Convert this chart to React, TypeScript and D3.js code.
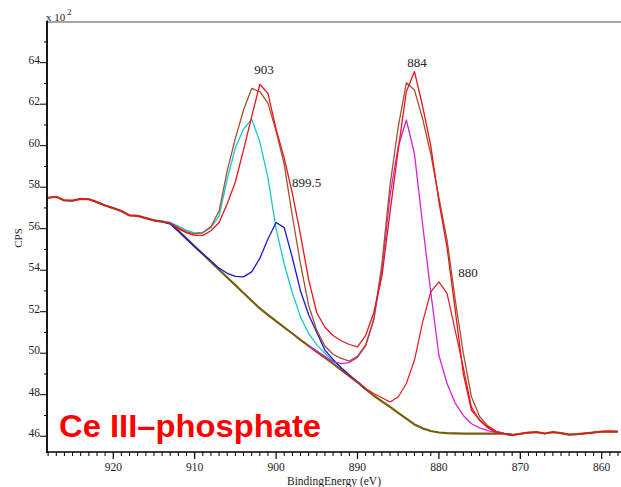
import React from "react";
import * as d3 from "d3";

type P = [number, number];

// Measured spectrum (binding energy eV, counts x100)
const rawData: P[] = [
  [928, 57.49], [927, 57.54], [926, 57.36], [925, 57.35], [924, 57.44], [923, 57.42], [922, 57.28], [921, 57.12],
  [920, 56.99], [919, 56.85], [918, 56.64], [917, 56.62], [916, 56.51], [915, 56.4], [914, 56.34], [913, 56.27],
  [912, 56.0], [911, 55.8], [910, 55.68], [909, 55.68], [908, 55.9], [907, 56.3], [906, 57.2], [905, 58.25],
  [904, 59.8], [903, 61.4], [902, 62.96], [901, 62.52], [900, 60.8], [899, 59.4], [898, 57.7], [897, 55.7],
  [896, 53.55], [895, 51.95], [894, 51.25], [893, 50.85], [892, 50.6], [891, 50.42], [890, 50.3], [889, 50.85],
  [888, 51.95], [887, 53.7], [886, 56.8], [885, 59.8], [884, 62.6], [883, 63.57], [882, 61.9], [881, 60.0],
  [880, 57.3], [879, 55.1], [878, 52.1], [877, 49.0], [876, 47.25], [875, 46.8], [874, 46.45], [873, 46.22],
  [872, 46.12], [871, 46.05], [870, 46.12], [869, 46.17], [868, 46.2], [867, 46.13], [866, 46.2], [865, 46.15],
  [864, 46.08], [863, 46.1], [862, 46.14], [861, 46.18], [860, 46.22], [859, 46.23], [858, 46.22],
];

// Shirley-type background
const backgroundData: P[] = [
  [928, 57.49], [927, 57.54], [926, 57.36], [925, 57.35], [924, 57.44], [923, 57.42], [922, 57.28], [921, 57.12],
  [920, 56.99], [919, 56.85], [918, 56.64], [917, 56.62], [916, 56.51], [915, 56.4], [914, 56.34], [913, 56.27],
  [912, 55.9], [911, 55.52], [910, 55.15], [909, 54.78], [908, 54.4], [907, 54.02], [906, 53.65], [905, 53.28],
  [904, 52.9], [903, 52.53], [902, 52.16], [901, 51.85], [900, 51.55], [899, 51.25], [898, 50.95], [897, 50.64],
  [896, 50.35], [895, 50.07], [894, 49.79], [893, 49.5], [892, 49.2], [891, 48.9], [890, 48.6], [889, 48.27],
  [888, 47.95], [887, 47.68], [886, 47.41], [885, 47.13], [884, 46.85], [883, 46.57], [882, 46.38], [881, 46.25],
  [880, 46.18], [879, 46.15], [878, 46.14], [877, 46.13], [876, 46.13], [875, 46.13], [874, 46.13], [873, 46.13],
  [872, 46.12], [871, 46.05], [870, 46.12], [869, 46.17], [868, 46.2], [867, 46.13], [866, 46.2], [865, 46.15],
  [864, 46.08], [863, 46.1], [862, 46.14], [861, 46.18], [860, 46.22], [859, 46.23], [858, 46.22],
];

// Fit envelope
const envelopeData: P[] = [
  [928, 57.49], [927, 57.54], [926, 57.36], [925, 57.35], [924, 57.44], [923, 57.42], [922, 57.28], [921, 57.12],
  [920, 56.99], [919, 56.85], [918, 56.64], [917, 56.62], [916, 56.51], [915, 56.4], [914, 56.34], [913, 56.27],
  [912, 56.05], [911, 55.85], [910, 55.75], [909, 55.8], [908, 56.1], [907, 56.85], [906, 58.8], [905, 60.35],
  [904, 61.72], [903, 62.76], [902, 62.6], [901, 62.05], [900, 60.7], [899, 59.1], [898, 56.6], [897, 54.3],
  [896, 52.3], [895, 51.1], [894, 50.35], [893, 49.95], [892, 49.75], [891, 49.62], [890, 49.85], [889, 50.4],
  [888, 51.65], [887, 54.3], [886, 58.1], [885, 60.9], [884, 63.03], [883, 62.68], [882, 61.3], [881, 59.6],
  [880, 57.5], [879, 55.45], [878, 52.6], [877, 50.0], [876, 47.9], [875, 46.95], [874, 46.5], [873, 46.25],
  [872, 46.14], [871, 46.07], [870, 46.12], [869, 46.17], [868, 46.2], [867, 46.13], [866, 46.2], [865, 46.15],
  [864, 46.08], [863, 46.1], [862, 46.14], [861, 46.18], [860, 46.22], [859, 46.23], [858, 46.22],
];

// Component 903 eV
const comp903: P[] = [
  [915, 56.4], [914, 56.36], [913, 56.3], [912, 56.12], [911, 55.92], [910, 55.8], [909, 55.82], [908, 56.05],
  [907, 56.6], [906, 58.4], [905, 59.9], [904, 60.8], [903, 61.27], [902, 60.2], [901, 58.45], [900, 56.0],
  [899, 54.3], [898, 52.9], [897, 51.75], [896, 50.95], [895, 50.4], [894, 50.0], [893, 49.65], [892, 49.3],
  [891, 48.95], [890, 48.63], [889, 48.28],
];

// Component 899.5 eV
const comp8995: P[] = [
  [915, 56.4], [914, 56.34], [913, 56.22], [912, 55.88], [911, 55.5], [910, 55.13], [909, 54.78], [908, 54.45],
  [907, 54.1], [906, 53.85], [905, 53.7], [904, 53.68], [903, 53.92], [902, 54.57], [901, 55.5], [900, 56.3],
  [899, 56.05], [898, 54.6], [897, 53.0], [896, 51.85], [895, 51.0], [894, 50.15], [893, 49.7], [892, 49.3],
  [891, 48.95], [890, 48.63], [889, 48.28],
];

// Component 884 eV
const comp884: P[] = [
  [896, 50.36], [895, 50.1], [894, 49.85], [893, 49.6], [892, 49.5], [891, 49.55], [890, 49.8], [889, 50.35],
  [888, 51.6], [887, 54.0], [886, 57.6], [885, 59.95], [884, 61.24], [883, 59.6], [882, 56.2], [881, 52.95],
  [880, 49.9], [879, 48.54], [878, 47.6], [877, 47.0], [876, 46.6], [875, 46.4], [874, 46.27], [873, 46.19],
  [872, 46.14], [871, 46.1],
];

// Component 880 eV
const comp880: P[] = [
  [892, 49.2], [891, 48.92], [890, 48.63], [889, 48.3], [888, 48.06], [887, 47.85], [886, 47.65], [885, 47.89],
  [884, 48.54], [883, 49.66], [882, 51.5], [881, 52.95], [880, 53.44], [879, 52.88], [878, 51.1], [877, 49.3],
  [876, 47.4], [875, 46.75], [874, 46.4], [873, 46.2], [872, 46.13], [871, 46.08],
];

const yMajorTicks = [46, 48, 50, 52, 54, 56, 58, 60, 62, 64];
const yMinorTicks = [47, 49, 51, 53, 55, 57, 59, 61, 63, 65];
const xMajorTicks = [920, 910, 900, 890, 880, 870, 860];

const peakLabels = [
  { text: "903", x: 264, y: 74, anchor: "middle" },
  { text: "899.5", x: 292, y: 187, anchor: "start" },
  { text: "884", x: 417, y: 67, anchor: "middle" },
  { text: "880", x: 468, y: 277, anchor: "middle" },
];

const W = 621, H = 487;
const L = 47, R = 621, T = 22, B = 452;

export default function App() {
  const x = d3.scaleLinear().domain([928.14, 857.63]).range([L, R]);
  const y = d3.scaleLinear().domain([45.24, 65.96]).range([B, T]);
  const line = d3.line<P>().x((d) => x(d[0])).y((d) => y(d[1]));
  const xMinor = d3.range(928, 857, -1).filter((v) => v % 10 !== 0);
  const serif = "'Liberation Serif', 'Times New Roman', serif";

  return (
    <svg width={W} height={H} style={{ position: "absolute", left: 0, top: 0, background: "#fff" }}>
      <defs>
        <clipPath id="plot">
          <rect x={L} y={T} width={R - L} height={B - T} />
        </clipPath>
      </defs>
      <g clipPath="url(#plot)" fill="none" strokeLinejoin="round">
        <path d={line(backgroundData)!} stroke="#7a5c0c" strokeWidth={2.2} />
        <path d={line(comp903)!} stroke="#18c8cc" strokeWidth={1.3} />
        <path d={line(comp8995)!} stroke="#1818d8" strokeWidth={1.3} />
        <path d={line(comp884)!} stroke="#d81ed8" strokeWidth={1.3} />
        <path d={line(comp880)!} stroke="#e8141c" strokeWidth={1.2} />
        <path d={line(envelopeData)!} stroke="#a0522d" strokeWidth={1.3} />
        <path d={line(rawData)!} stroke="#e8141c" strokeWidth={1.3} />
      </g>

      {/* frame */}
      <line x1={L} x2={R} y1={T} y2={T} stroke="#8a8a8a" strokeWidth={1.6} />
      <line x1={L} x2={L} y1={T - 1} y2={B + 1} stroke="#000" strokeWidth={1.8} />
      <line x1={L - 1} x2={R} y1={B} y2={B} stroke="#000" strokeWidth={1.6} />

      {/* y ticks */}
      {yMajorTicks.map((v) => (
        <g key={"ym" + v}>
          <line x1={L - 7} x2={L} y1={y(v)} y2={y(v)} stroke="#000" strokeWidth={1} />
          <text x={L - 7} y={y(v) + 1} textAnchor="end" fontFamily={serif} fontSize={11.5} fill="#222">
            {v}
          </text>
        </g>
      ))}
      {yMinorTicks.map((v) => (
        <line key={"yn" + v} x1={L - 3} x2={L} y1={y(v)} y2={y(v)} stroke="#000" strokeWidth={1} />
      ))}

      {/* x ticks */}
      {xMinor.map((v) => (
        <line key={"xn" + v} x1={x(v)} x2={x(v)} y1={B} y2={B + 4} stroke="#000" strokeWidth={1} />
      ))}
      {xMajorTicks.map((v) => (
        <g key={"xm" + v}>
          <line x1={x(v)} x2={x(v)} y1={B} y2={B + 7} stroke="#000" strokeWidth={1.2} />
          <text x={x(v)} y={471} textAnchor="middle" fontFamily={serif} fontSize={11.5} fill="#222">
            {v}
          </text>
        </g>
      ))}

      {/* axis titles */}
      <text x={334} y={485} textAnchor="middle" fontFamily={serif} fontSize={11.5} fill="#222">
        BindingEnergy  (eV)
      </text>
      <text
        transform="translate(22,238) rotate(-90)"
        textAnchor="middle"
        fontFamily={serif}
        fontSize={11}
        fill="#222"
      >
        CPS
      </text>
      <text x={46} y={21} fontFamily={serif} fontSize={11} fill="#222">
        x 10
      </text>
      <text x={67} y={15} fontFamily={serif} fontSize={9} fill="#222">
        2
      </text>

      {/* peak labels */}
      {peakLabels.map((p) => (
        <text key={p.text} x={p.x} y={p.y} textAnchor={p.anchor as any} fontFamily={serif} fontSize={13} fill="#222">
          {p.text}
        </text>
      ))}

      <text
        x={59}
        y={437}
        fontFamily="'Liberation Sans', Arial, sans-serif"
        fontWeight="bold"
        fontSize={32}
        fill="#ff0000"
        textLength={262}
        lengthAdjust="spacingAndGlyphs"
      >
        Ce III–phosphate
      </text>
    </svg>
  );
}
